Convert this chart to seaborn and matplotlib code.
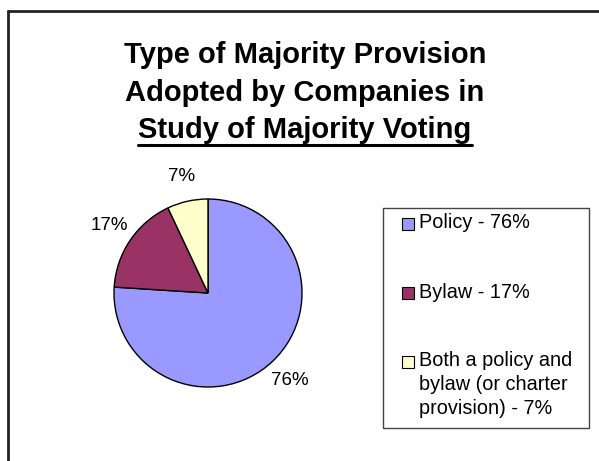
import matplotlib
matplotlib.use("Agg")
import matplotlib.pyplot as plt
from matplotlib.patches import Rectangle
from matplotlib.lines import Line2D
import seaborn as sns

# ---- data ----
categories = ["Policy", "Bylaw", "Both a policy and\nbylaw (or charter\nprovision)"]
values = [76, 17, 7]
colors = ["#9999FF", "#993366", "#FFFFCC"]
title_lines = ["Type of Majority Provision", "Adopted by Companies in", "Study of Majority Voting"]

sns.set_theme(style="white")
plt.rcParams["font.family"] = ["Liberation Sans", "DejaVu Sans"]

W, H = 599, 461
fig = plt.figure(figsize=(W / 100, H / 100), dpi=100)
fig.patch.set_facecolor("white")

def fx(px):
    return px / W

def fy(py):
    return 1 - py / H

# outer chart frame (only left & top visible)
fig.add_artist(Line2D([fx(8), fx(8)], [fy(11), 0], transform=fig.transFigure,
                      color="#222222", linewidth=2))
fig.add_artist(Line2D([fx(8), 1], [fy(11), fy(11)], transform=fig.transFigure,
                      color="#222222", linewidth=2))

# ---- title ----
title_baselines = [63, 101, 138]
tt = None
for line, yb in zip(title_lines, title_baselines):
    tt = fig.text(fx(305), fy(yb), line, ha="center", va="baseline",
                  fontsize=21, fontweight="bold", color="black")

# ---- pie ----
cx, cy, r = 208, 293, 94
ax = fig.add_axes([fx(cx - r), fy(cy + r), 2 * r / W, 2 * r / H])
pal = sns.color_palette(colors)
wedges, texts, autotexts = ax.pie(values, colors=pal, startangle=90, counterclock=False,
                                  autopct="%d%%", pctdistance=1.27,
                                  wedgeprops=dict(edgecolor="black", linewidth=1.0),
                                  textprops=dict(fontsize=13.5, color="black"))
for t in autotexts:
    t.set_clip_on(False)
ax.set_xlim(-1, 1)
ax.set_ylim(-1, 1)
ax.set_aspect("auto")
ax.axis("off")

# ---- legend (drawn as a box) ----
lx0, lx1, ly0, ly1 = 383, 589, 208, 428
fig.patches.append(Rectangle((fx(lx0), fy(ly1)), fx(lx1) - fx(lx0), fy(ly0) - fy(ly1),
                             transform=fig.transFigure, fill=True, facecolor="white",
                             edgecolor="#444444", linewidth=1.0, zorder=1))
marker_centers = [224, 293, 362]
text_baselines = [228, 298, 366]
line_step = 24
ms = 12
for cat, val, col, mc, tb in zip(categories, values, pal, marker_centers, text_baselines):
    fig.patches.append(Rectangle((fx(402), fy(mc + ms / 2)), ms / W, ms / H,
                                 transform=fig.transFigure, facecolor=col,
                                 edgecolor="black", linewidth=0.8, zorder=2))
    label_lines = f"{cat} - {val}%".split("\n")
    for i, ln in enumerate(label_lines):
        fig.text(fx(419), fy(tb + i * line_step), ln, ha="left", va="baseline",
                 fontsize=14.3, color="black", zorder=3)

# underline for last title line
fig.canvas.draw()
bb = tt.get_window_extent(renderer=fig.canvas.get_renderer())
uy = fy(145)
fig.add_artist(Line2D([bb.x0 / W, bb.x1 / W], [uy, uy], transform=fig.transFigure,
                      color="black", linewidth=2.2))

fig.savefig("out.png", dpi=100, facecolor="white")
